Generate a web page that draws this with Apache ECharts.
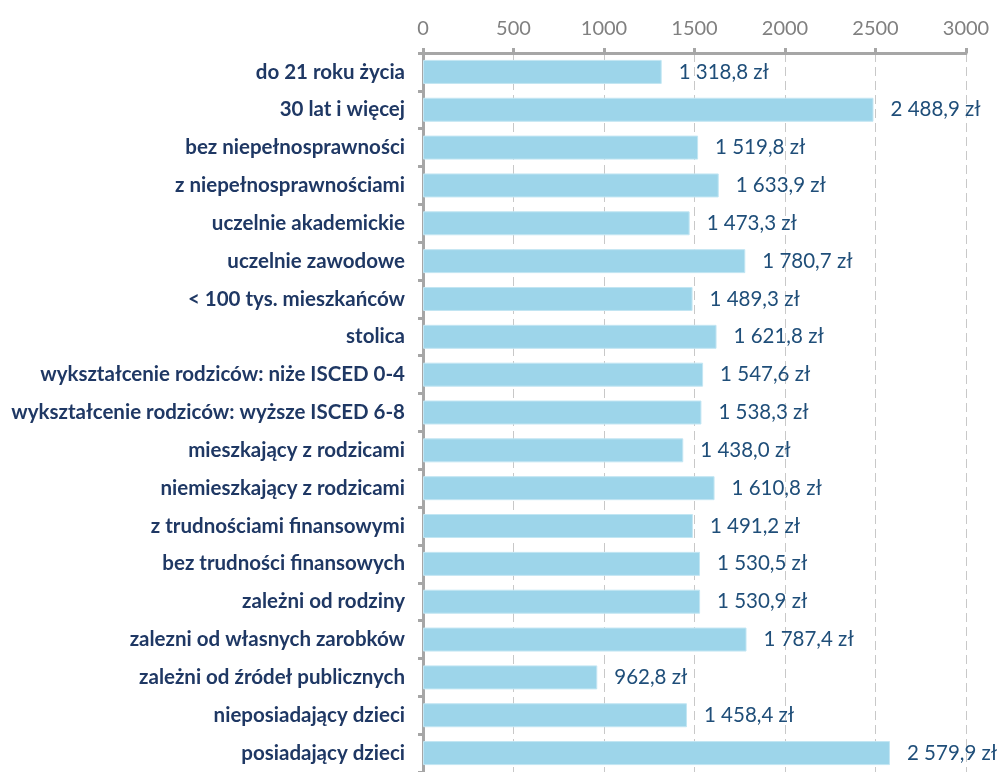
<!DOCTYPE html>
<html>
<head>
<meta charset="utf-8">
<script src="https://cdn.jsdelivr.net/npm/echarts@6/dist/echarts.min.js"></script>
<style>
html, body { margin: 0; padding: 0; background: #fff; }
#chart { width: 999px; height: 772px; }
</style>
</head>
<body>
<div id="chart"></div>
<script>
// Average monthly income by group (PLN)
const categories = [
  'do 21 roku życia',
  '30 lat i więcej',
  'bez niepełnosprawności',
  'z niepełnosprawnościami',
  'uczelnie akademickie',
  'uczelnie zawodowe',
  '< 100 tys. mieszkańców',
  'stolica',
  'wykształcenie rodziców: niże ISCED 0-4',
  'wykształcenie rodziców: wyższe ISCED 6-8',
  'mieszkający z rodzicami',
  'niemieszkający z rodzicami',
  'z trudnościami finansowymi',
  'bez trudności finansowych',
  'zależni od rodziny',
  'zalezni od własnych zarobków',
  'zależni od źródeł publicznych',
  'nieposiadający dzieci',
  'posiadający dzieci'
];
const values = [
  1318.8, 2488.9, 1519.8, 1633.9, 1473.3, 1780.7, 1489.3, 1621.8, 1547.6, 1538.3,
  1438.0, 1610.8, 1491.2, 1530.5, 1530.9, 1787.4, 962.8, 1458.4, 2579.9
];
const axisTicks = [0, 500, 1000, 1500, 2000, 2500, 3000];

function formatPLN(v) {
  const parts = v.toFixed(1).split('.');
  const intPart = parts[0].replace(/\B(?=(\d{3})+(?!\d))/g, ' ');
  return intPart + ',' + parts[1] + ' zł';
}

const chart = echarts.init(document.getElementById('chart'));
chart.setOption({
  animation: false,
  grid: { left: 423, top: 53, width: 543, height: 723, containLabel: false },
  xAxis: {
    type: 'value',
    position: 'top',
    min: axisTicks[0],
    max: axisTicks[axisTicks.length - 1],
    interval: axisTicks[1] - axisTicks[0],
    axisLine: { show: true, lineStyle: { color: '#a6a6a6', width: 3 } },
    axisTick: { show: true, inside: false, length: 5, lineStyle: { color: '#a6a6a6', width: 3 } },
    axisLabel: {
      color: '#808080', fontSize: 20, fontFamily: 'Lato', margin: 14,
      formatter: v => String(v)
    },
    splitLine: { show: true, lineStyle: { color: '#c8c8c8', type: [9, 5], width: 1 } }
  },
  yAxis: {
    type: 'category',
    inverse: true,
    data: categories,
    axisLine: { show: true, lineStyle: { color: '#a6a6a6', width: 3 } },
    axisTick: { show: true, length: 5, lineStyle: { color: '#a6a6a6', width: 3 } },
    axisLabel: { color: '#1f3864', fontSize: 20.5, fontWeight: 'bold', fontFamily: 'Lato', margin: 18 }
  },
  series: [{
    type: 'bar',
    data: values,
    barWidth: 24,
    itemStyle: { color: '#9dd5ea', borderColor: '#c3e6f3', borderWidth: 1 },
    label: {
      show: true,
      position: 'right',
      distance: 17,
      color: '#1f4e79',
      fontSize: 20.5,
      fontFamily: 'Lato',
      formatter: p => formatPLN(p.value)
    }
  }]
});
</script>
</body>
</html>
